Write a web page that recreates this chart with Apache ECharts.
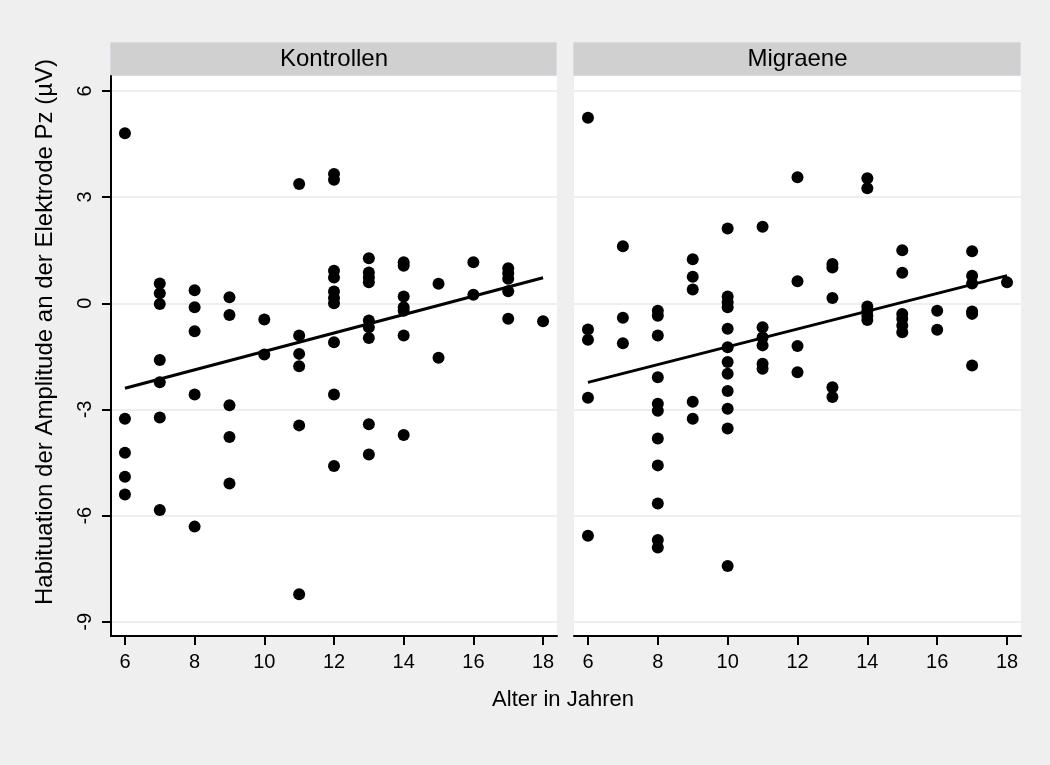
<!DOCTYPE html>
<html>
<head>
<meta charset="utf-8">
<title>Habituation nach Alter</title>
<script src="https://cdn.jsdelivr.net/npm/echarts@6/dist/echarts.min.js"></script>
<style>
  html, body { margin: 0; padding: 0; background: #efefef; }
  #chart { width: 1050px; height: 765px; }
</style>
</head>
<body>
<div id="chart"></div>
<script>
// Panel titles
const panelNames = ['Kontrollen', 'Migraene'];

// Kontrollen: age (years) and habituation (µV), one entry per subject
const kontrollenAlter = [
  6, 6, 6, 6, 6,
  7, 7, 7, 7, 7, 7, 7,
  8, 8, 8, 8, 8,
  9, 9, 9, 9, 9,
  10, 10,
  11, 11, 11, 11, 11, 11,
  12, 12, 12, 12, 12, 12, 12, 12, 12, 12,
  13, 13, 13, 13, 13, 13, 13, 13, 13,
  14, 14, 14, 14, 14, 14, 14,
  15, 15,
  16, 16,
  17, 17, 17, 17, 17,
  18
];
const kontrollenWert = [
  4.80, -3.26, -4.22, -4.90, -5.40,
  0.56, 0.28, -0.02, -1.60, -2.23, -3.23, -5.84,
  0.37, -0.11, -0.79, -2.58, -6.31,
  0.17, -0.33, -2.88, -3.78, -5.09,
  -0.46, -1.45,
  3.37, -0.91, -1.43, -1.78, -3.45, -8.22,
  3.65, 3.49, 0.92, 0.73, 0.33, 0.15, 0.00, -1.10, -2.58, -4.60,
  1.27, 0.87, 0.73, 0.59, -0.49, -0.68, -0.98, -3.42, -4.27,
  1.16, 1.06, 0.19, -0.11, -0.21, -0.91, -3.72,
  0.55, -1.54,
  1.16, 0.24,
  0.99, 0.85, 0.69, 0.34, -0.44,
  -0.51
];

// Migraene: age (years) and habituation (µV)
const migraeneAlter = [
  6, 6, 6, 6, 6,
  7, 7, 7,
  8, 8, 8, 8, 8, 8, 8, 8, 8, 8, 8,
  9, 9, 9, 9, 9,
  10, 10, 10, 10, 10, 10, 10, 10, 10, 10, 10, 10,
  11, 11, 11, 11, 11, 11,
  12, 12, 12, 12,
  13, 13, 13, 13, 13,
  14, 14, 14, 14, 14, 14,
  15, 15, 15, 15, 15, 15,
  16, 16,
  17, 17, 17, 17, 17, 17,
  18
];
const migraeneWert = [
  5.24, -0.74, -1.03, -2.67, -6.57,
  1.61, -0.41, -1.13,
  -0.21, -0.35, -0.91, -2.09, -2.84, -3.04, -3.82, -4.58, -5.66, -6.69, -6.90,
  1.24, 0.75, 0.39, -2.78, -3.26,
  2.11, 0.19, 0.03, -0.11, -0.72, -1.24, -1.66, -1.99, -2.48, -2.98, -3.54, -7.42,
  2.16, -0.68, -0.96, -1.19, -1.71, -1.85,
  3.56, 0.62, -1.21, -1.95,
  1.11, 1.01, 0.15, -2.37, -2.65,
  3.53, 3.25, -0.09, -0.21, -0.35, -0.47,
  1.50, 0.86, -0.30, -0.44, -0.63, -0.82,
  -0.21, -0.75,
  1.47, 0.78, 0.56, -0.23, -0.30, -1.76,
  0.59
];

// Axis ticks and titles
const xTicks = [6, 8, 10, 12, 14, 16, 18];
const yTicks = [-9, -6, -3, 0, 3, 6];
const xTitle = 'Alter in Jahren';
const yTitle = 'Habituation der Amplitude an der Elektrode Pz (\u00b5V)';

const FONT = '"Liberation Sans", Arial, Helvetica, sans-serif';

// Least-squares line, evaluated at the youngest and oldest age
function linearFit(xs, ys) {
  const n = xs.length;
  const mx = xs.reduce((s, v) => s + v, 0) / n;
  const my = ys.reduce((s, v) => s + v, 0) / n;
  let sxy = 0, sxx = 0;
  for (let i = 0; i < n; i++) {
    sxy += (xs[i] - mx) * (ys[i] - my);
    sxx += (xs[i] - mx) * (xs[i] - mx);
  }
  const b = sxy / sxx;
  const a = my - b * mx;
  const x0 = Math.min(...xs), x1 = Math.max(...xs);
  return [[x0, a + b * x0], [x1, a + b * x1]];
}

const groups = [
  { ages: kontrollenAlter, vals: kontrollenWert },
  { ages: migraeneAlter, vals: migraeneWert }
];

const gridBoxes = [
  { left: 111, top: 76, width: 446, height: 560 },
  { left: 574, top: 76, width: 447, height: 560 }
];

const grids = gridBoxes.map(b => ({
  left: b.left, top: b.top, width: b.width, height: b.height,
  show: true, backgroundColor: '#ffffff', borderWidth: 0
}));

const xAxes = gridBoxes.map((b, i) => ({
  type: 'value', gridIndex: i, min: 5.6, max: 18.4, position: 'bottom',
  axisLine: { show: true, onZero: false, lineStyle: { color: '#000', width: 2 } },
  axisTick: { show: true, length: 9, lineStyle: { color: '#000', width: 2 }, customValues: xTicks },
  axisLabel: { show: true, customValues: xTicks, color: '#000', fontSize: 20, fontFamily: FONT, margin: 16 },
  splitLine: { show: false }
}));

const yAxes = gridBoxes.map((b, i) => ({
  type: 'value', gridIndex: i, min: -9.4, max: 6.42, position: 'left',
  axisLine: { show: i === 0, onZero: false, lineStyle: { color: '#000', width: 2 } },
  axisTick: { show: i === 0, length: 9, lineStyle: { color: '#000', width: 2 }, customValues: yTicks },
  axisLabel: { show: i === 0, customValues: yTicks, rotate: 90, color: '#000', fontSize: 20, fontFamily: FONT, margin: 16 },
  splitLine: { show: true, customValues: yTicks, lineStyle: { color: '#e8e8e8', width: 1.5 } }
}));

const series = [];
groups.forEach((g, i) => {
  series.push({
    type: 'scatter', xAxisIndex: i, yAxisIndex: i,
    symbol: 'circle', symbolSize: 12,
    itemStyle: { color: '#000', opacity: 1 },
    data: g.ages.map((a, k) => [a, g.vals[k]]),
    z: 3
  });
  series.push({
    type: 'line', xAxisIndex: i, yAxisIndex: i,
    showSymbol: false, symbol: 'none',
    lineStyle: { color: '#000', width: 3 },
    data: linearFit(g.ages, g.vals),
    z: 4
  });
});

// Panel header strips
const graphics = [];
gridBoxes.forEach((b, i) => {
  graphics.push({
    type: 'rect',
    shape: { x: b.left - 0.5, y: 42.5, width: b.width, height: 33 },
    style: { fill: '#d0d0d0', stroke: '#d6dbe7', lineWidth: 1 }
  });
  graphics.push({
    type: 'text',
    x: b.left + b.width / 2, y: 59,
    style: {
      text: panelNames[i], fill: '#000', font: '24px ' + FONT,
      textAlign: 'center', textVerticalAlign: 'middle'
    }
  });
});
graphics.push({
  type: 'text', x: 563, y: 700,
  style: { text: xTitle, fill: '#000', font: '22px ' + FONT, textAlign: 'center', textVerticalAlign: 'middle' }
});
graphics.push({
  type: 'text', x: 45, y: 332, rotation: Math.PI / 2,
  style: { text: yTitle, fill: '#000', font: '24px ' + FONT, textAlign: 'center', textVerticalAlign: 'middle' }
});

const chart = echarts.init(document.getElementById('chart'), null, { renderer: 'canvas' });
chart.setOption({
  backgroundColor: '#efefef',
  animation: false,
  grid: grids,
  xAxis: xAxes,
  yAxis: yAxes,
  series: series,
  graphic: graphics
});
</script>
</body>
</html>
